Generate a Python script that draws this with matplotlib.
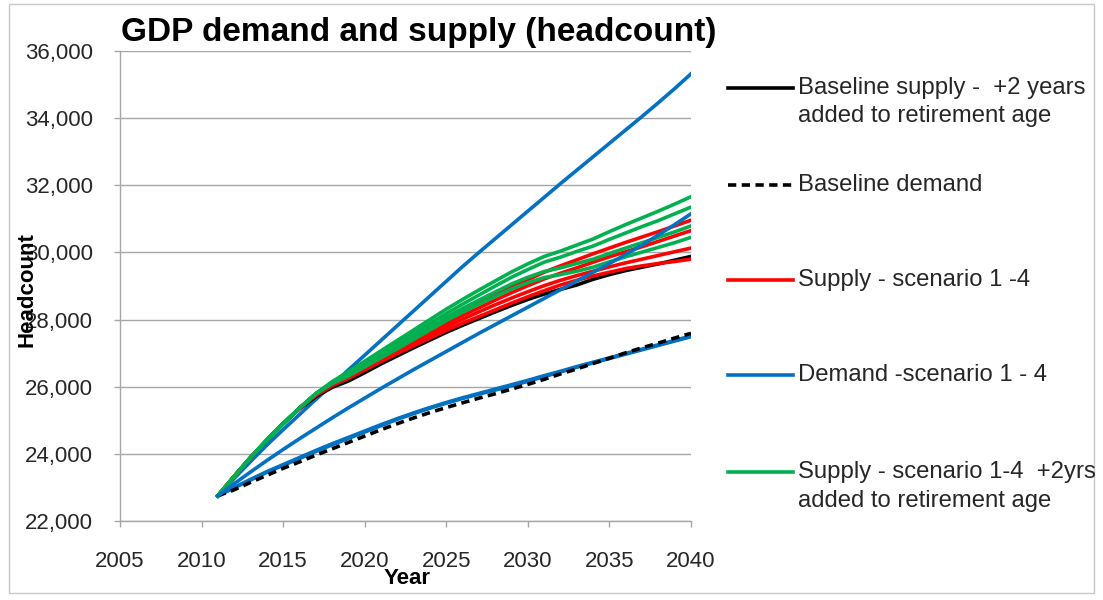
import matplotlib
matplotlib.use('Agg')
import matplotlib.pyplot as plt
from matplotlib.lines import Line2D
from matplotlib.patches import Rectangle
from matplotlib.ticker import FuncFormatter

plt.rcParams['font.family'] = ['Liberation Sans', 'DejaVu Sans']

# ---------------- data ----------------
years = list(range(2011, 2041))

baseline_supply = [22750, 23330, 23890, 24410, 24900, 25340, 25700, 25980, 26170, 26420,
                   26680, 26920, 27160, 27390, 27620, 27830, 28030, 28230, 28420, 28600,
                   28760, 28900, 29030, 29200, 29340, 29460, 29560, 29660, 29770, 29880]

baseline_demand = [22750, 22930, 23150, 23360, 23570, 23760, 23960, 24150, 24340, 24530,
                   24720, 24900, 25070, 25230, 25380, 25520, 25660, 25790, 25930, 26070,
                   26220, 26380, 26530, 26690, 26850, 27010, 27160, 27300, 27450, 27590]

supply_s1 = [22750, 23330, 23890, 24410, 24900, 25360, 25790, 26110, 26370, 26640,
             26910, 27180, 27450, 27720, 27990, 28240, 28480, 28720, 28960, 29190,
             29410, 29600, 29780, 29960, 30130, 30300, 30460, 30620, 30790, 30960]
supply_s2 = [22750, 23330, 23890, 24410, 24900, 25360, 25780, 26080, 26320, 26580,
             26840, 27100, 27360, 27620, 27880, 28120, 28350, 28580, 28800, 29010,
             29210, 29380, 29540, 29710, 29870, 30020, 30170, 30330, 30490, 30650]
supply_s3 = [22750, 23330, 23890, 24410, 24900, 25360, 25760, 26050, 26280, 26530,
             26780, 27030, 27280, 27530, 27780, 28010, 28230, 28440, 28640, 28830,
             29010, 29170, 29310, 29440, 29570, 29690, 29800, 29910, 30020, 30130]
supply_s4 = [22750, 23330, 23890, 24410, 24900, 25350, 25740, 26030, 26250, 26500,
             26750, 26990, 27220, 27450, 27680, 27890, 28090, 28290, 28490, 28680,
             28860, 29030, 29170, 29300, 29410, 29520, 29600, 29670, 29730, 29800]

demand_s1 = [22750, 23270, 23770, 24260, 24720, 25170, 25620, 26060, 26500, 26940,
             27380, 27820, 28260, 28700, 29140, 29580, 30000, 30410, 30820, 31230,
             31640, 32050, 32450, 32850, 33250, 33650, 34050, 34460, 34880, 35320]
demand_s2 = [22750, 23110, 23460, 23800, 24130, 24450, 24760, 25070, 25370, 25660,
             25950, 26230, 26510, 26780, 27050, 27320, 27590, 27850, 28110, 28370,
             28630, 28890, 29150, 29410, 29670, 29940, 30220, 30520, 30830, 31150]
demand_s3 = [22750, 22990, 23220, 23450, 23660, 23860, 24070, 24270, 24460, 24650,
             24840, 25030, 25200, 25360, 25510, 25650, 25780, 25900, 26030, 26160,
             26300, 26440, 26580, 26710, 26840, 26970, 27100, 27230, 27360, 27490]
demand_s4 = [22750, 23000, 23240, 23470, 23680, 23890, 24100, 24300, 24490, 24680,
             24870, 25050, 25220, 25380, 25530, 25670, 25800, 25930, 26060, 26190,
             26330, 26460, 26600, 26730, 26860, 26990, 27120, 27250, 27380, 27510]

supply2_s1 = [22750, 23330, 23890, 24410, 24900, 25360, 25790, 26150, 26450, 26760,
              27070, 27380, 27690, 28000, 28310, 28600, 28880, 29150, 29420, 29660,
              29880, 30040, 30220, 30400, 30620, 30830, 31030, 31230, 31440, 31660]
supply2_s2 = [22750, 23330, 23890, 24410, 24900, 25360, 25790, 26130, 26400, 26690,
              26990, 27280, 27580, 27880, 28180, 28460, 28730, 29000, 29260, 29490,
              29710, 29860, 30030, 30190, 30390, 30580, 30770, 30950, 31150, 31350]
supply2_s3 = [22750, 23330, 23890, 24410, 24900, 25360, 25790, 26110, 26350, 26630,
              26910, 27200, 27490, 27780, 28070, 28330, 28580, 28820, 29060, 29260,
              29430, 29540, 29670, 29800, 29970, 30130, 30290, 30450, 30610, 30790]
supply2_s4 = [22750, 23330, 23890, 24410, 24900, 25360, 25790, 26090, 26320, 26590,
              26860, 27130, 27410, 27690, 27970, 28220, 28460, 28690, 28910, 29100,
              29250, 29340, 29440, 29560, 29720, 29870, 30010, 30150, 30290, 30450]

legend_labels = [
    ["Baseline supply -  +2 years", "added to retirement age"],
    ["Baseline demand"],
    ["Supply - scenario 1 -4"],
    ["Demand -scenario 1 - 4"],
    ["Supply - scenario 1-4  +2yrs", "added to retirement age"],
]

x_ticks = [2005, 2010, 2015, 2020, 2025, 2030, 2035, 2040]
y_ticks = [22000, 24000, 26000, 28000, 30000, 32000, 34000, 36000]

# ---------------- styling ----------------
W, H = 1103, 600
BLACK = '#000000'
RED = '#ff0000'
BLUE = '#0070c0'
GREEN = '#00b050'
GRID = '#a6a6a6'
TXT = '#262626'
LW = 2.6
DASH = (0, (2.3, 1.5))

fig = plt.figure(figsize=(W / 100, H / 100), dpi=100)
ax = fig.add_axes([120 / W, 1 - 521 / H, 571 / W, 470 / H])

ax.set_xlim(2005, 2040)
ax.set_ylim(22000, 36000)
ax.set_xticks(x_ticks)
ax.set_yticks(y_ticks)
ax.yaxis.set_major_formatter(FuncFormatter(lambda v, p: f"{int(v):,}"))
ax.grid(axis='y', color=GRID, lw=1)
ax.set_axisbelow(True)
for s in ['top', 'right']:
    ax.spines[s].set_visible(False)
for s in ['left', 'bottom']:
    ax.spines[s].set_color(GRID)
    ax.spines[s].set_linewidth(1)
ax.tick_params(axis='both', direction='out', length=4.5, width=1, color=GRID,
               labelsize=16, labelcolor=TXT)
ax.tick_params(axis='y', pad=15)
ax.tick_params(axis='x', pad=17)

# draw lines
ax.plot(years, demand_s3, color=BLUE, lw=LW, zorder=3)
ax.plot(years, demand_s4, color=BLUE, lw=LW, zorder=3)
ax.plot(years, baseline_demand, color=BLACK, lw=LW, ls=DASH, zorder=4)
ax.plot(years, demand_s1, color=BLUE, lw=LW, zorder=3)
ax.plot(years, baseline_supply, color=BLACK, lw=LW, zorder=4)
for s in [supply_s4, supply_s3, supply_s2, supply_s1]:
    ax.plot(years, s, color=RED, lw=LW, zorder=5)
for s in [supply2_s4, supply2_s3, supply2_s2, supply2_s1]:
    ax.plot(years, s, color=GREEN, lw=LW, zorder=6)
ax.plot(years, demand_s2, color=BLUE, lw=LW, zorder=7)

# texts
fig.text(121 / W, 1 - 32 / H, "GDP demand and supply (headcount)", fontsize=24,
         fontweight='bold', ha='left', va='center', color='#000000')
fig.text(27 / W, 1 - 290 / H, "Headcount", rotation=90, fontsize=16,
         fontweight='bold', ha='center', va='center', color='#000000')
fig.text(407 / W, 1 - 579 / H, "Year", fontsize=16, fontweight='bold',
         ha='center', va='center', color='#000000')

# manual legend
leg_y = [88, 185, 280, 375, 472]
leg_style = [(BLACK, '-'), (BLACK, DASH), (RED, '-'), (BLUE, '-'), (GREEN, '-')]
for yy, (c, ls), labs in zip(leg_y, leg_style, legend_labels):
    fig.add_artist(Line2D([728 / W, 793 / W], [1 - yy / H, 1 - yy / H], color=c, ls=ls,
                          lw=LW, transform=fig.transFigure))
    for i, lab in enumerate(labs):
        fig.text(798 / W, 1 - (yy + i * 28.5) / H, lab, fontsize=17.2, color=TXT,
                 ha='left', va='center')

fig.add_artist(Rectangle((9 / W, 1 - 593 / H), (1094 - 9) / W, (593 - 4) / H,
                         transform=fig.transFigure, fill=False, edgecolor='#c8c8c8', lw=1))

fig.savefig('out.png', dpi=100)
